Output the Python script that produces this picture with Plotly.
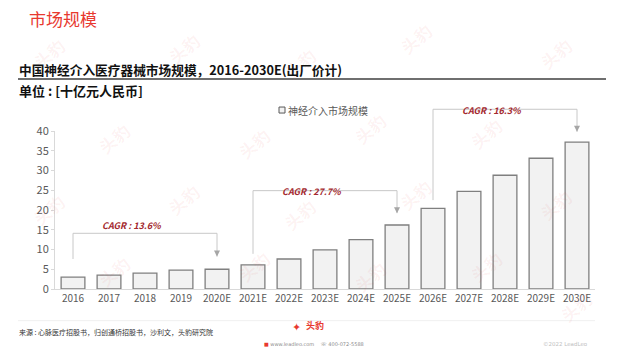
import plotly.graph_objects as go

categories = ["2016", "2017", "2018", "2019", "2020E", "2021E", "2022E", "2023E",
              "2024E", "2025E", "2026E", "2027E", "2028E", "2029E", "2030E"]
market_size = [3.0, 3.5, 4.0, 4.8, 5.0, 6.1, 7.6, 9.9, 12.5, 16.2, 20.4, 24.7, 28.8, 33.1, 37.2]
series_name = "神经介入市场规模"
y_ticks = [0, 5, 10, 15, 20, 25, 30, 35, 40]

cagr_labels = ["CAGR : 13.6%", "CAGR : 27.7%", "CAGR : 16.3%"]
cagr_spans = [(0, 4), (5, 9), (10, 14)]
cagr_levels = [14.1, 24.9, 45.5]
cagr_left_feet = [7.6, 8.9, 22.5]
cagr_tips = [8.2, 19.2, 39.8]
cagr_text_levels = [16.0, 26.9, 47.3]

YMAX = 40
FONT = "Noto Sans CJK SC"
L, R, T, B = 55, 29, 131, 61.7
W, H = 624, 351
PW, PH = W - L - R, H - T - B


def px(x):
    return (x - L) / PW


def py(y):
    return (H - B - y) / PH


fig = go.Figure()
fig.add_trace(go.Bar(
    x=categories, y=market_size, name=series_name, width=0.66,
    marker=dict(color="#f2f2f2", line=dict(color="#7f7f7f", width=1.3)),
    showlegend=False,
))

shapes = []
annotations = []

# watermarks
wm_pos = [(25, 30), (160, 25), (300, 40), (440, 15), (580, 30),
          (90, 115), (230, 120), (370, 105), (510, 110),
          (25, 210), (160, 200), (300, 215), (440, 195), (580, 205),
          (90, 295), (230, 290), (370, 300), (510, 290), (600, 330)]
for (wx, wy) in wm_pos:
    annotations.append(dict(x=px(wx), y=py(wy), xref="paper", yref="paper",
                            text="<b>头豹</b>", showarrow=False, textangle=-40,
                            font=dict(family=FONT, size=17, color="rgba(225,70,70,0.07)")))

for (i0, i1), lab, lev, lf, tip, tl in zip(cagr_spans, cagr_labels, cagr_levels,
                                           cagr_left_feet, cagr_tips, cagr_text_levels):
    c = "#c8c8c8"
    shapes.append(dict(type="line", xref="x", yref="paper", x0=i0, x1=i1,
                       y0=lev / YMAX, y1=lev / YMAX, line=dict(color=c, width=1)))
    shapes.append(dict(type="line", xref="x", yref="paper", x0=i0, x1=i0,
                       y0=lev / YMAX, y1=lf / YMAX, line=dict(color=c, width=1)))
    shapes.append(dict(type="line", xref="x", yref="paper", x0=i1, x1=i1,
                       y0=lev / YMAX, y1=tip / YMAX, line=dict(color=c, width=1)))
    annotations.append(dict(x=i1, y=tip / YMAX, xref="x", yref="paper", text="",
                            showarrow=True, arrowhead=2, arrowsize=1.2, arrowwidth=1,
                            arrowcolor="#a6a6a6", ax=0, ay=-6))
    annotations.append(dict(x=(i0 + i1) / 2 - 0.35, y=tl / YMAX, xref="x", yref="paper",
                            text="<b><i>" + lab + "</i></b>", showarrow=False,
                            font=dict(family=FONT, size=9, color="#a3282e")))

# headings
annotations.append(dict(x=px(27), y=py(18), xref="paper", yref="paper",
                        text="市场规模", showarrow=False, xanchor="left", yanchor="middle",
                        font=dict(family=FONT, size=17, color="#e8392f")))
annotations.append(dict(x=px(17), y=py(69), xref="paper", yref="paper",
                        text="<b>中国神经介入医疗器械市场规模，2016-2030E(出厂价计)</b>",
                        showarrow=False, xanchor="left", yanchor="middle",
                        font=dict(family=FONT, size=12.7, color="#111111")))
annotations.append(dict(x=px(17), y=py(90), xref="paper", yref="paper",
                        text="<b>单位 : [十亿元人民币]</b>",
                        showarrow=False, xanchor="left", yanchor="middle",
                        font=dict(family=FONT, size=13, color="#111111")))
shapes.append(dict(type="line", xref="paper", yref="paper",
                   x0=px(18), x1=px(606), y0=py(79), y1=py(79),
                   line=dict(color="#6f6f6f", width=2)))

# legend (shape + text)
shapes.append(dict(type="rect", xref="paper", yref="paper", xsizemode="pixel", ysizemode="pixel",
                   xanchor=px(282), yanchor=py(110), x0=-3, x1=3, y0=-3, y1=3,
                   line=dict(color="#595959", width=1), fillcolor="#f2f2f2"))
annotations.append(dict(x=px(286), y=py(110), xref="paper", yref="paper",
                        text=series_name, showarrow=False, xanchor="left", yanchor="middle",
                        font=dict(family=FONT, size=10, color="#595959")))

# footer
shapes.append(dict(type="line", xref="paper", yref="paper",
                   x0=px(18), x1=px(595), y0=py(321), y1=py(321),
                   line=dict(color="#f0f0f0", width=1)))
annotations.append(dict(x=px(17), y=py(332), xref="paper", yref="paper",
                        text="来源 : 心脉医疗招股书，归创通桥招股书，沙利文，头豹研究院",
                        showarrow=False, xanchor="left", yanchor="middle",
                        font=dict(family=FONT, size=7, color="#333333")))
annotations.append(dict(x=px(304), y=py(326), xref="paper", yref="paper",
                        text="<b>头豹</b>", showarrow=False, xanchor="left", yanchor="middle",
                        font=dict(family=FONT, size=9, color="#e8392f")))
annotations.append(dict(x=px(296), y=py(328), xref="paper", yref="paper",
                        text="<b>✦</b>", showarrow=False, xanchor="center", yanchor="middle",
                        font=dict(family="DejaVu Sans", size=11, color="#e8392f")))
annotations.append(dict(x=px(262), y=py(344), xref="paper", yref="paper",
                        text="<span style='color:#e8392f'>■</span> www.leadleo.com    ☏ 400-072-5588",
                        showarrow=False, xanchor="left", yanchor="middle",
                        font=dict(family="DejaVu Sans", size=5, color="#8a8a8a")))
annotations.append(dict(x=px(590), y=py(344), xref="paper", yref="paper",
                        text="©2022 LeadLeo", showarrow=False, xanchor="right", yanchor="middle",
                        font=dict(family="DejaVu Sans", size=5.5, color="#c0c0c0")))

fig.update_layout(
    width=W, height=H,
    margin=dict(l=L, r=R, t=T, b=B),
    paper_bgcolor="white", plot_bgcolor="white",
    font=dict(family=FONT, color="#595959"),
    bargap=0.34,
    shapes=shapes, annotations=annotations,
    xaxis=dict(type="category", showline=True, linecolor="#d9d9d9", linewidth=1,
               ticks="", showgrid=False, tickfont=dict(size=10, color="#595959"),
               fixedrange=True),
    yaxis=dict(range=[0, YMAX], tickvals=y_ticks, showline=True, linecolor="#d9d9d9",
               linewidth=1, ticks="outside", ticklen=3, tickcolor="#d9d9d9",
               showgrid=False, zeroline=False, tickfont=dict(size=11, color="#595959"),
               fixedrange=True),
)

fig.write_html("out.html")
